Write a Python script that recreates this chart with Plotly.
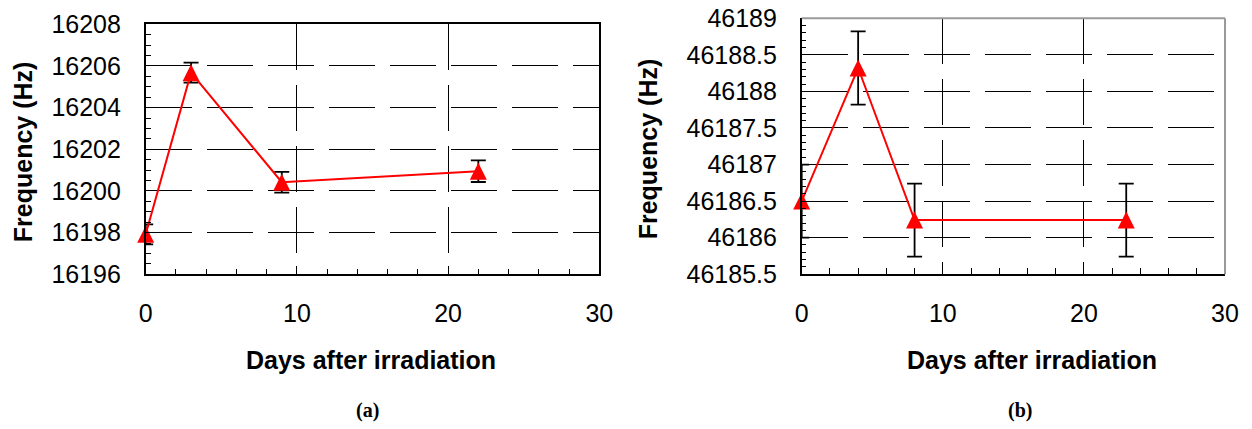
import plotly.graph_objects as go

# ---- data ----
days_a = [0, 3, 9, 22]
freq_a = [16197.92, 16205.68, 16200.42, 16200.95]
err_a = [0.48, 0.48, 0.5, 0.52]

days_b = [0, 4, 8, 23]
freq_b = [46186.5, 46188.32, 46186.24, 46186.24]
err_b = [0.5, 0.5, 0.5, 0.5]

x_ticks = [0, 10, 20, 30]
x_ticktext = ["0", "10", "20", "30"]
ya_ticks = [16196, 16198, 16200, 16202, 16204, 16206, 16208]
ya_ticktext = ["16196", "16198", "16200", "16202", "16204", "16206", "16208"]
yb_ticks = [46185.5, 46186, 46186.5, 46187, 46187.5, 46188, 46188.5, 46189]
yb_ticktext = ["46185.5", "46186", "46186.5", "46187", "46187.5", "46188", "46188.5", "46189"]

x_title = "Days after irradiation"
y_title = "Frequency (Hz)"
panel_labels = ["(a)", "(b)"]

W, H = 1252, 429
RED = "#FF0000"
FONT = "Arial, Liberation Sans, sans-serif"

fig = go.Figure()


def add_panel(xs, ys, es, xa, ya):
    # error bars first so the markers sit on top of them
    fig.add_trace(go.Scatter(
        x=xs, y=ys, mode="markers", xaxis=xa, yaxis=ya, cliponaxis=False,
        marker=dict(size=1, color="rgba(0,0,0,0)"),
        error_y=dict(type="data", array=es, symmetric=True, color="black",
                     thickness=1.8, width=7.5),
        showlegend=False, hoverinfo="skip"))
    fig.add_trace(go.Scatter(
        x=xs, y=ys, mode="lines+markers", xaxis=xa, yaxis=ya, cliponaxis=False,
        line=dict(color=RED, width=2),
        marker=dict(symbol="arrow-down", angle=180, standoff=8.5, size=17,
                    color=RED, line=dict(width=0)),
        showlegend=False, hoverinfo="skip"))


add_panel(days_a, freq_a, err_a, "x", "y")
add_panel(days_b, freq_b, err_b, "x2", "y2")

grid = dict(showgrid=True, gridcolor="black", gridwidth=1, griddash="46px,15px")
common_x = dict(range=[0, 30], tickvals=x_ticks, ticktext=x_ticktext,
                ticks="inside", ticklen=9, tickwidth=1.2, tickcolor="black",
                showline=True, linecolor="black", linewidth=1.5, zeroline=False,
                tickfont=dict(family=FONT, size=25, color="black"),
                ticklabelstandoff=16,
                minor=dict(dtick=2, tick0=0, ticks="inside", ticklen=6,
                           tickwidth=1.2, tickcolor="black", showgrid=False),
                **grid)

fig.update_layout(
    width=W, height=H, margin=dict(l=0, r=0, t=0, b=0, autoexpand=False),
    paper_bgcolor="white", plot_bgcolor="white",
    xaxis=dict(domain=[145.7 / W, 599.3 / W], anchor="y", mirror=True, **common_x),
    yaxis=dict(domain=[(H - 274.3) / H, (H - 24.3) / H], anchor="x",
               range=[16196, 16208], tickvals=ya_ticks, ticktext=ya_ticktext,
               ticks="inside", ticklen=7, tickwidth=1.2, tickcolor="black",
               showline=True, linecolor="black", linewidth=1.5, mirror=True,
               zeroline=False, ticklabelstandoff=18,
               tickfont=dict(family=FONT, size=25, color="black"),
               minor=dict(dtick=0.5, tick0=16196, ticks="inside", ticklen=6,
                          tickwidth=1.2, tickcolor="black", showgrid=False),
               **grid),
    xaxis2=dict(domain=[801.7 / W, 1225 / W], anchor="y2", **common_x),
    yaxis2=dict(domain=[(H - 274.2) / H, (H - 18.3) / H], anchor="x2",
                range=[46185.5, 46189], tickvals=yb_ticks, ticktext=yb_ticktext,
                ticks="inside", ticklen=7, tickwidth=1.2, tickcolor="black",
                showline=True, linecolor="black", linewidth=1.5,
                zeroline=False, ticklabelstandoff=18,
                tickfont=dict(family=FONT, size=25, color="black"),
                minor=dict(dtick=0.1, tick0=46185.5, ticks="inside", ticklen=5,
                           tickwidth=1.2, tickcolor="black", showgrid=False),
                **grid),
)

# gray top/right border of panel (b)
fig.add_shape(type="line", xref="x2 domain", yref="y2 domain", x0=0, x1=1, y0=1, y1=1,
              line=dict(color="#9a9a9a", width=2))
fig.add_shape(type="line", xref="x2 domain", yref="y2 domain", x0=1, x1=1, y0=0, y1=1,
              line=dict(color="#9a9a9a", width=2))

title_font = dict(family=FONT, size=25, color="black")
for xc, yc in [(22.5, 151.7), (648, 148.3)]:
    fig.add_annotation(text="<b>%s</b>" % y_title, xref="paper", yref="paper",
                       x=xc / W, y=1 - yc / H, xanchor="center", yanchor="middle",
                       textangle=-90, showarrow=False, font=title_font)
for xc, yc in [(371, 360), (1032, 360)]:
    fig.add_annotation(text="<b>%s</b>" % x_title, xref="paper", yref="paper",
                       x=xc / W, y=1 - yc / H, xanchor="center", yanchor="middle",
                       showarrow=False, font=title_font)
for lab, xc, yc in [(panel_labels[0], 367, 410), (panel_labels[1], 1020, 410)]:
    fig.add_annotation(text="<b>%s</b>" % lab, xref="paper", yref="paper",
                       x=xc / W, y=1 - yc / H, xanchor="center", yanchor="middle",
                       showarrow=False,
                       font=dict(family="Times New Roman, Liberation Serif, serif",
                                 size=20, color="black"))

fig.write_html(
    "out.html",
    config={"displayModeBar": False},
    post_script="document.body.style.margin='0';document.body.style.overflow='hidden';",
)
